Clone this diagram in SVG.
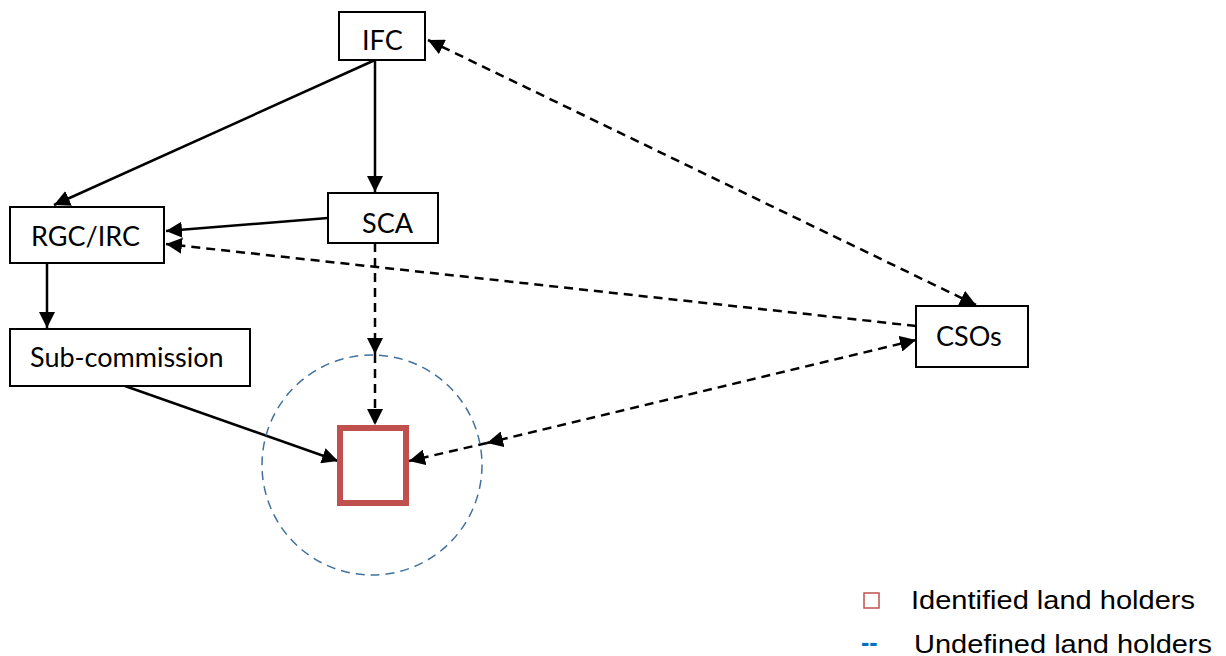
<svg xmlns="http://www.w3.org/2000/svg" width="1226" height="656" viewBox="0 0 1226 656">
<style>
.box{fill:#fff;stroke:#000;stroke-width:2}
.lbl{font-family:Lato,"Open Sans",sans-serif;font-size:27px;fill:#000}
.solid{stroke:#000;stroke-width:2.5;fill:none}
.dash{stroke:#000;stroke-width:2.5;fill:none;stroke-dasharray:9,6}
.leg{font-family:"Liberation Sans",Arial,sans-serif;font-size:25px;fill:#000}
</style>
<defs>
<marker id="ah" viewBox="0 0 10 10" refX="10" refY="5" markerWidth="6.4" markerHeight="6.4" markerUnits="strokeWidth" orient="auto-start-reverse">
<path d="M0,0 L10,5 L0,10 z" fill="#000"/>
</marker>
</defs>
<rect width="1226" height="656" fill="#fff"/>
<g id="connectors">
<line class="solid" x1="375" y1="60" x2="54" y2="205" marker-end="url(#ah)"/>
<line class="solid" x1="375" y1="60" x2="375" y2="192" marker-end="url(#ah)"/>
<line class="solid" x1="328" y1="218" x2="166" y2="231" marker-end="url(#ah)"/>
<line class="solid" x1="47" y1="263" x2="47" y2="328" marker-end="url(#ah)"/>
<line class="solid" x1="125" y1="386" x2="338" y2="461" marker-end="url(#ah)"/>
<line class="dash" x1="375" y1="243" x2="375" y2="354" marker-end="url(#ah)"/>
<line class="dash" x1="375" y1="354" x2="375" y2="425" marker-end="url(#ah)"/>
<line class="dash" x1="428" y1="40" x2="976" y2="305" marker-start="url(#ah)" marker-end="url(#ah)"/>
<line class="dash" x1="916" y1="326" x2="166" y2="244" marker-end="url(#ah)"/>
<line class="dash" x1="916" y1="340" x2="487" y2="443" marker-start="url(#ah)" marker-end="url(#ah)"/>
<line class="dash" x1="487" y1="443" x2="409" y2="461" marker-end="url(#ah)"/>
</g>
<g id="circle">
<circle cx="372" cy="465" r="110" fill="none" stroke="#41719c" stroke-width="1.5" stroke-dasharray="9,6"/>
</g>
<g id="landholder">
<rect x="340" y="428" width="66" height="75" fill="none" stroke="#c0504d" stroke-width="6"/>
</g>
<g id="IFC">
<rect class="box" x="339" y="12" width="86" height="48"/>
<text class="lbl" x="362" y="50">IFC</text>
</g>
<g id="SCA">
<rect class="box" x="328" y="193" width="110" height="50"/>
<text class="lbl" x="362" y="233">SCA</text>
</g>
<g id="RGC">
<rect class="box" x="10" y="207" width="154" height="56"/>
<text class="lbl" x="31" y="246">RGC/IRC</text>
</g>
<g id="Sub">
<rect class="box" x="10" y="329" width="240" height="57"/>
<text class="lbl" x="30" y="367">Sub-commission</text>
</g>
<g id="CSOs">
<rect class="box" x="916" y="306" width="112" height="61"/>
<text class="lbl" x="936" y="346">CSOs</text>
</g>
<g id="legend">
<rect x="864" y="593" width="15" height="15" fill="none" stroke="#c0504d" stroke-width="1.5"/>
<text class="leg" x="911" y="609" textLength="284" lengthAdjust="spacingAndGlyphs">Identified land holders</text>
<text x="861" y="651" style="font-family:'Liberation Sans',Arial,sans-serif;font-size:25px;font-weight:bold;fill:#0070c0">--</text>
<text class="leg" x="914" y="653" textLength="298" lengthAdjust="spacingAndGlyphs">Undefined land holders</text>
</g>
</svg>
